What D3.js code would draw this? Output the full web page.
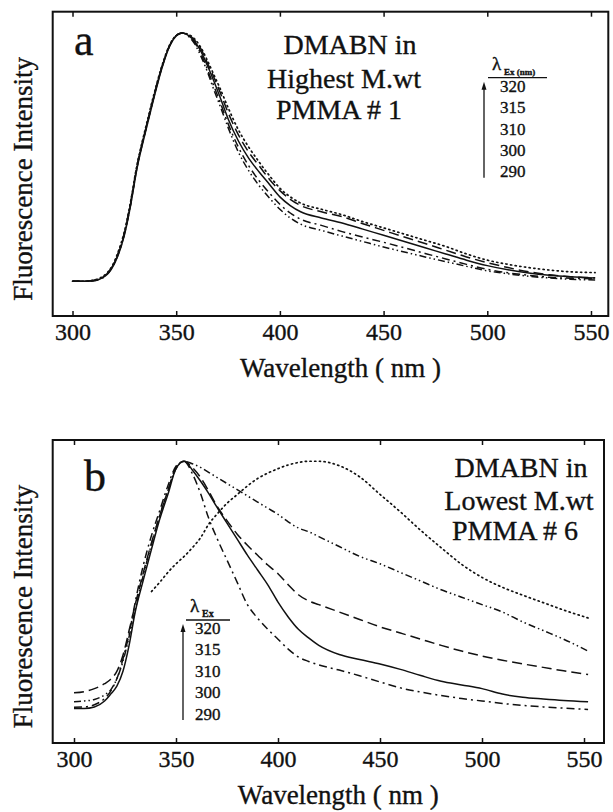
<!DOCTYPE html>
<html>
<head>
<meta charset="utf-8">
<script src="https://cdn.jsdelivr.net/npm/d3@7"></script>
<style>
  body { margin: 0; background: #fff; }
  svg text { font-family: "Liberation Serif", "Times New Roman", Times, "DejaVu Serif", serif; fill: #111; stroke: #111; stroke-width: 0.35px; }
</style>
</head>
<body>
<div id="canvas"></div>
<script>
// panel a : highest M.wt PMMA #1
let wlA = [300,305,310,313,316,319,322,325,328,331,335,339,343,347,350,353,356,359,362,365,368,371,375,380,385,390,395,400,405,410,420,430,440,450,460,470,480,490,500,510,520,530,540,552];
let aSolid   = [0,0,0.002,0.008,0.022,0.052,0.105,0.185,0.305,0.45,0.595,0.73,0.855,0.95,0.988,1,0.99,0.965,0.925,0.87,0.81,0.745,0.655,0.565,0.495,0.44,0.39,0.34,0.305,0.28,0.255,0.235,0.21,0.185,0.16,0.135,0.11,0.085,0.063,0.046,0.033,0.024,0.018,0.013];
let aDash    = [0,0,0.003,0.01,0.025,0.056,0.11,0.19,0.31,0.455,0.6,0.735,0.86,0.952,0.99,1,0.992,0.97,0.935,0.88,0.825,0.765,0.68,0.59,0.52,0.465,0.41,0.365,0.33,0.305,0.28,0.26,0.232,0.205,0.178,0.152,0.125,0.098,0.075,0.055,0.038,0.026,0.018,0.014];
let aDot     = [0,0,0.004,0.012,0.028,0.06,0.118,0.2,0.32,0.465,0.61,0.745,0.865,0.955,0.99,1,0.994,0.975,0.94,0.89,0.835,0.78,0.7,0.61,0.54,0.48,0.425,0.375,0.34,0.315,0.29,0.268,0.24,0.215,0.19,0.165,0.14,0.11,0.085,0.068,0.055,0.045,0.038,0.035];
let aDashDot = [0,0,0.002,0.008,0.022,0.054,0.108,0.19,0.31,0.455,0.6,0.735,0.858,0.952,0.99,1,0.988,0.96,0.915,0.855,0.79,0.725,0.635,0.54,0.465,0.405,0.355,0.31,0.275,0.25,0.225,0.2,0.178,0.157,0.135,0.112,0.09,0.068,0.048,0.034,0.024,0.016,0.012,0.01];
let aDashDD  = [0,0,0.003,0.01,0.026,0.058,0.114,0.196,0.318,0.462,0.605,0.74,0.862,0.953,0.99,1,0.986,0.955,0.905,0.845,0.775,0.71,0.62,0.52,0.445,0.385,0.335,0.29,0.255,0.23,0.205,0.182,0.16,0.138,0.118,0.098,0.079,0.06,0.042,0.03,0.02,0.013,0.008,0.005];

// panel b : lowest M.wt PMMA #6
let wlB = [300,305,310,315,318,321,324,327,330,334,338,342,346,350,354,358,362,366,370,375,380,385,390,395,400,405,410,415,420,430,440,450,460,470,480,490,500,510,520,530,540,552];
let bSolid   = [0,0,0.006,0.03,0.058,0.09,0.15,0.255,0.39,0.52,0.645,0.765,0.865,0.97,1,0.965,0.92,0.87,0.815,0.75,0.685,0.62,0.56,0.5,0.43,0.37,0.32,0.285,0.255,0.218,0.198,0.18,0.158,0.133,0.11,0.095,0.08,0.058,0.045,0.038,0.032,0.027];
let bDash    = [0.063,0.068,0.08,0.1,0.118,0.15,0.215,0.315,0.42,0.55,0.67,0.78,0.88,0.975,1,0.975,0.935,0.88,0.82,0.76,0.705,0.66,0.62,0.58,0.545,0.5,0.46,0.435,0.42,0.39,0.36,0.33,0.305,0.28,0.255,0.232,0.212,0.195,0.18,0.166,0.152,0.137];
let bDashDD  = [0.027,0.03,0.036,0.055,0.075,0.12,0.19,0.29,0.4,0.54,0.665,0.78,0.88,0.97,1,0.99,0.975,0.955,0.935,0.91,0.885,0.86,0.835,0.81,0.785,0.755,0.73,0.715,0.695,0.655,0.615,0.585,0.55,0.515,0.48,0.45,0.42,0.39,0.35,0.315,0.28,0.232];
let bDashDot = [0.005,0.006,0.015,0.04,0.07,0.12,0.2,0.3,0.43,0.58,0.7,0.8,0.9,0.98,1,0.95,0.87,0.77,0.69,0.6,0.51,0.42,0.365,0.32,0.28,0.24,0.208,0.19,0.176,0.155,0.132,0.107,0.083,0.066,0.052,0.04,0.03,0.02,0.012,0.006,0.001,-0.004];
let bDot     = [null,null,null,null,null,null,null,null,null,null,0.473,0.51,0.55,0.585,0.615,0.65,0.69,0.745,0.785,0.83,0.865,0.9,0.93,0.952,0.97,0.985,0.995,1,1,0.982,0.937,0.866,0.795,0.72,0.65,0.583,0.53,0.49,0.458,0.428,0.398,0.366];

let xTicks = [300, 350, 400, 450, 500, 550];
let exLabels = ["320", "315", "310", "300", "290"];

let styles = {
  solid: null,
  dash: "10,5",
  dot: "1.2,3.5",
  dashdot: "8,4,2,4",
  dashdd: "7,3,1.5,3,1.5,3"
};

let serif = '"Liberation Serif", "Times New Roman", Times, "DejaVu Serif", serif';

let svg = d3.select("#canvas")
  .append("svg")
  .attr("width", 613)
  .attr("height", 812)
  .attr("font-family", serif);

function panel(p) {
  let x = d3.scaleLinear().domain(p.xDomain).range([p.left, p.right]);
  let y = d3.scaleLinear().domain([-0.14, 1.086]).range([p.bottom, p.top]);
  let g = svg.append("g");

  let line = d3.line()
    .defined(d => d[1] !== null)
    .x(d => x(d[0]))
    .y(d => y(d[1]))
    .curve(d3.curveMonotoneX);

  p.series.forEach(s => {
    g.append("path")
      .datum(p.wl.map((w, i) => [w, s.values[i]]))
      .attr("d", line)
      .attr("fill", "none")
      .attr("stroke", "#111")
      .attr("stroke-width", s.style === "dot" ? 1.7 : 1.5)
      .attr("stroke-linecap", s.style === "dot" ? "round" : "butt")
      .attr("stroke-dasharray", styles[s.style]);
  });

  // frame
  g.append("rect")
    .attr("x", p.left).attr("y", p.top)
    .attr("width", p.right - p.left).attr("height", p.bottom - p.top)
    .attr("fill", "none").attr("stroke", "#111").attr("stroke-width", 2);

  let ejeX = d3.axisBottom(x).tickValues(xTicks).tickSizeInner(-5).tickSizeOuter(0).tickPadding(7);
  let gx = g.append("g").attr("transform", "translate(0," + p.bottom + ")").call(ejeX);
  gx.attr("font-family", serif).attr("font-size", 24);
  gx.select(".domain").remove();
  gx.selectAll("line").attr("stroke", "#111").attr("stroke-width", 1.5);
  gx.selectAll("text").attr("fill", "#111");

  let ejeTop = d3.axisTop(x).tickValues(xTicks).tickSizeInner(-5).tickSizeOuter(0).tickFormat("");
  let gt = g.append("g").attr("transform", "translate(0," + p.top + ")").call(ejeTop);
  gt.select(".domain").remove();
  gt.selectAll("line").attr("stroke", "#111").attr("stroke-width", 1.5);

  g.append("text")
    .attr("x", (p.left + p.right) / 2 + 10)
    .attr("y", p.bottom + 61)
    .attr("text-anchor", "middle")
    .attr("font-size", 27)
    .text("Wavelength ( nm )");

  g.append("text")
    .attr("transform", "translate(32," + ((p.top + p.bottom) / 2 + 15) + ") rotate(-90)")
    .attr("text-anchor", "middle")
    .attr("font-size", 27)
    .text("Fluorescence Intensity");

  g.append("text")
    .attr("x", p.letterX).attr("y", p.top + p.letterDy)
    .attr("font-size", 44)
    .text(p.letter);

  p.title.forEach(t => {
    g.append("text")
      .attr("x", t[1]).attr("y", p.top + t[2])
      .attr("text-anchor", "middle")
      .attr("font-size", 28)
      .text(t[0]);
  });

  // excitation legend
  let L = p.legend;
  g.append("text").attr("x", L.x + 4).attr("y", p.top + L.dy)
    .attr("font-size", 19).text("λ");
  g.append("text").attr("x", L.x + 16).attr("y", p.top + L.dy + 5)
    .attr("font-size", L.subSize).attr("font-weight", "bold")
    .text(L.sub);
  g.append("line")
    .attr("x1", L.x).attr("x2", L.x + L.w)
    .attr("y1", p.top + L.dy + 8).attr("y2", p.top + L.dy + 8)
    .attr("stroke", "#111").attr("stroke-width", 1.3);
  exLabels.forEach((t, i) => {
    g.append("text")
      .attr("x", L.x + L.tx).attr("y", p.top + L.dy + 22 + i * 21.4)
      .attr("font-size", 17)
      .text(t);
  });
  let ax = L.x - L.ax;
  g.append("line")
    .attr("x1", ax).attr("x2", ax)
    .attr("y1", p.top + L.dy + 108).attr("y2", p.top + L.dy + 18)
    .attr("stroke", "#111").attr("stroke-width", 1.3);
  g.append("path")
    .attr("d", d3.line()([[ax - 2.5, p.top + L.dy + 20], [ax, p.top + L.dy + 12], [ax + 2.5, p.top + L.dy + 20]]))
    .attr("fill", "#111");
}

panel({
  wl: wlA, xDomain: [290.45, 558.35],
  left: 52.7, right: 608.3, top: 11.7, bottom: 316,
  letter: "a", letterX: 74, letterDy: 43,
  title: [["DMABN in", 350, 42], ["Highest M.wt", 344, 76], ["PMMA # 1", 339, 107]],
  legend: { x: 488, dy: 58, w: 59, tx: 12, ax: 4, sub: "Ex (nm)", subSize: 9 },
  series: [
    { values: aSolid, style: "solid" },
    { values: aDash, style: "dash" },
    { values: aDot, style: "dot" },
    { values: aDashDot, style: "dashdot" },
    { values: aDashDD, style: "dashdd" }
  ]
});

panel({
  wl: wlB, xDomain: [289.56, 559.8],
  left: 52.7, right: 604, top: 440, bottom: 743,
  letter: "b", letterX: 84, letterDy: 51,
  title: [["DMABN in", 521, 37], ["Lowest M.wt", 519, 70], ["PMMA # 6", 515, 100]],
  legend: { x: 186, dy: 172, w: 44, tx: 9, ax: 3, sub: "Ex", subSize: 10 },
  series: [
    { values: bSolid, style: "solid" },
    { values: bDash, style: "dash" },
    { values: bDashDD, style: "dashdd" },
    { values: bDashDot, style: "dashdot" },
    { values: bDot, style: "dot" }
  ]
});
</script>
</body>
</html>
